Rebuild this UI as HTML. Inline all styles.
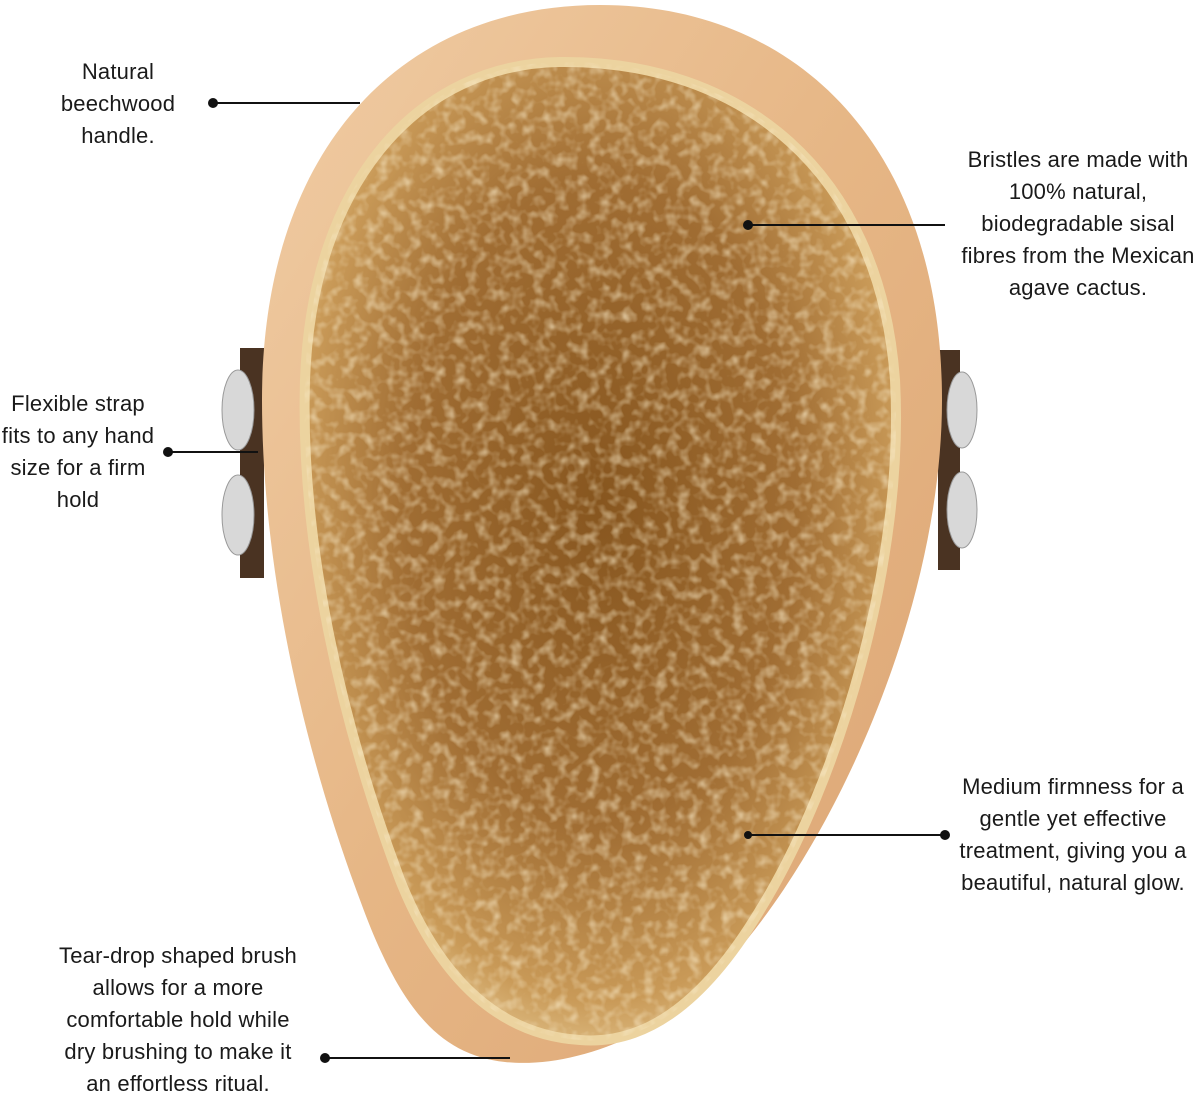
<!DOCTYPE html>
<html><head><meta charset="utf-8"><style>
html,body{margin:0;padding:0;background:#fff;}
body{width:1200px;height:1093px;position:relative;overflow:hidden;font-family:"Liberation Sans",sans-serif;}
.t{position:absolute;font-size:22px;letter-spacing:0.2px;line-height:32px;color:#1a1a1a;text-align:center;white-space:nowrap;transform:translateX(-50%);}
</style></head><body>
<svg width="1200" height="1093" style="position:absolute;left:0;top:0">
<defs>
<linearGradient id="wood" x1="0" y1="0" x2="1" y2="1">
<stop offset="0" stop-color="#f0cca4"/><stop offset="0.5" stop-color="#e6b685"/><stop offset="1" stop-color="#dca574"/>
</linearGradient>
<radialGradient id="br" cx="0.5" cy="0.45" r="0.6">
<stop offset="0" stop-color="#87561f"/><stop offset="0.55" stop-color="#a06d33"/><stop offset="0.85" stop-color="#c99a58"/><stop offset="1" stop-color="#ead09c"/>
</radialGradient>
<filter id="tex" x="0" y="0" width="1" height="1">
<feTurbulence type="fractalNoise" baseFrequency="0.09" numOctaves="2" seed="3"/>
<feColorMatrix values="0 0 0 0 0.93  0 0 0 0 0.8  0 0 0 0 0.55  0 0 0 1.6 -0.7"/>
<feComposite in2="SourceGraphic" operator="in"/>
</filter>
</defs>
<rect x="240" y="348" width="24" height="230" fill="#4a3322"/>
<ellipse cx="238" cy="410" rx="16" ry="40" fill="#d8d8d8" stroke="#999"/>
<ellipse cx="238" cy="515" rx="16" ry="40" fill="#d8d8d8" stroke="#999"/>
<rect x="938" y="350" width="22" height="220" fill="#4a3322"/>
<ellipse cx="962" cy="410" rx="15" ry="38" fill="#d8d8d8" stroke="#999"/>
<ellipse cx="962" cy="510" rx="15" ry="38" fill="#d8d8d8" stroke="#999"/>
<path d="M600 5 C800 5 942 150 942 400 C942 620 820 880 700 990 C640 1045 560 1068 505 1062 C440 1055 400 1010 360 900 C300 740 262 560 262 400 C262 150 400 5 600 5 Z" fill="url(#wood)"/>
<path d="M560 62 C740 60 880 170 895 380 C905 560 840 780 760 910 C700 1010 640 1045 580 1040 C500 1035 440 980 400 880 C340 720 300 540 305 380 C312 180 420 64 560 62 Z" fill="url(#br)" stroke="#ecd39f" stroke-width="10"/>
<path d="M560 62 C740 60 880 170 895 380 C905 560 840 780 760 910 C700 1010 640 1045 580 1040 C500 1035 440 980 400 880 C340 720 300 540 305 380 C312 180 420 64 560 62 Z" fill="#c89550" filter="url(#tex)" opacity="0.85"/>
<g stroke="#111" stroke-width="2" fill="#111">
<line x1="213" y1="103" x2="360" y2="103"/><circle cx="213" cy="103" r="4"/>
<line x1="748" y1="225" x2="945" y2="225"/><circle cx="748" cy="225" r="4"/>
<line x1="168" y1="452" x2="258" y2="452"/><circle cx="168" cy="452" r="4"/>
<line x1="748" y1="835" x2="945" y2="835"/><circle cx="945" cy="835" r="4"/><circle cx="748" cy="835" r="3"/>
<line x1="325" y1="1058" x2="510" y2="1058"/><circle cx="325" cy="1058" r="4"/>
</g>
</svg>
<div class="t" style="left:118px;top:56px">Natural<br>beechwood<br>handle.</div>
<div class="t" style="left:1078px;top:144px">Bristles are made with<br>100% natural,<br>biodegradable sisal<br>fibres from the Mexican<br>agave cactus.</div>
<div class="t" style="left:78px;top:388px">Flexible strap<br>fits to any hand<br>size for a firm<br>hold</div>
<div class="t" style="left:1073px;top:771px">Medium firmness for a<br>gentle yet effective<br>treatment, giving you a<br>beautiful, natural glow.</div>
<div class="t" style="left:178px;top:940px">Tear-drop shaped brush<br>allows for a more<br>comfortable hold while<br>dry brushing to make it<br>an effortless ritual.</div>
</body></html>
